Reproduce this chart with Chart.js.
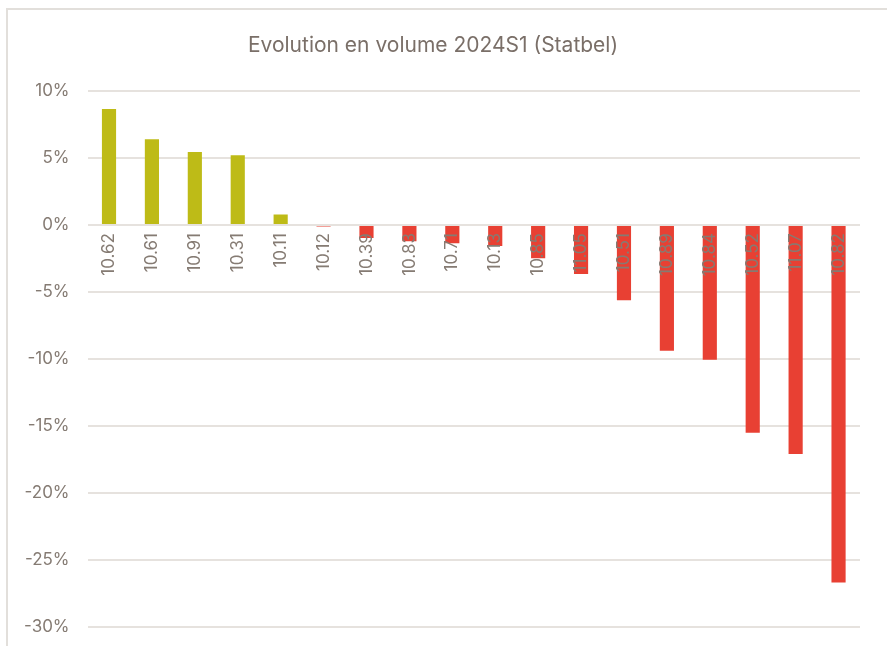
<!DOCTYPE html>
<html>
<head>
<meta charset="utf-8">
<title>Evolution en volume 2024S1</title>
<script src="https://cdn.jsdelivr.net/npm/chart.js@4.4.1/dist/chart.umd.min.js"></script>
<style>
    html, body { margin: 0; padding: 0; background: #ffffff; }
    body { width: 887px; height: 646px; position: relative; overflow: hidden; }
    .frame {
        position: absolute; left: 6px; top: 8px; right: 0; bottom: 0;
        border-left: 2px solid #e2dfdb; border-top: 2px solid #e2dfdb;
    }
    #chart { position: absolute; left: 0; top: 0; }
</style>
</head>
<body>
<div class="frame"></div>
<!-- canvas a bit taller than the window: the bottom edge is cut off like in the source image -->
<canvas id="chart" width="887" height="655"></canvas>
<script>
// Category labels (as printed under each bar)
const categories = ['10.62', '10.61', '10.91', '10.31', '10.11', '10.12', '10.39', '10.83', '10.71',
    '10.13', '10.85', '11.05', '10.51', '10.89', '10.84', '10.52', '11.07', '10.82'];

// Volume change, in %
const volumeChange = [8.67, 6.42, 5.45, 5.22, 0.80, -0.10, -0.97, -1.20, -1.35,
    -1.57, -2.47, -3.66, -5.62, -9.39, -10.05, -15.5, -17.1, -26.7];

// Y axis range and step
const yMin = -30;
const yMax = 10;
const yStep = 5;

const greenColor = '#bebb17';
const redColor = '#e84033';
const textColor = '#857b73';
const gridColor = '#e6e2de';

document.addEventListener('DOMContentLoaded', function() {
    const ctx = document.getElementById('chart').getContext('2d');

    new Chart(ctx, {
        type: 'bar',
        data: {
            labels: categories,
            datasets: [{
                label: 'Evolution en volume',
                data: volumeChange,
                backgroundColor: volumeChange.map(v => v >= 0 ? greenColor : redColor),
                barPercentage: 0.33,
                categoryPercentage: 1.0
            }]
        },
        options: {
            responsive: false,
            animation: false,
            layout: {
                padding: { left: 6, right: 27, top: 33, bottom: 3 }
            },
            plugins: {
                legend: { display: false },
                tooltip: { enabled: false },
                title: {
                    display: true,
                    text: 'Evolution en volume 2024S1 (Statbel)',
                    color: '#7a6f68',
                    font: { family: 'Inter', size: 21, weight: 'normal' },
                    padding: { top: 0, bottom: 33 }
                }
            },
            scales: {
                x: {
                    position: { y: 0 },
                    grid: { display: false, drawTicks: false },
                    border: { display: false },
                    ticks: {
                        z: 1, // labels drawn over the bars
                        color: textColor,
                        font: { family: 'Inter', size: 17 },
                        minRotation: 90,
                        maxRotation: 90,
                        autoSkip: false,
                        padding: 8
                    }
                },
                y: {
                    min: yMin,
                    max: yMax,
                    grid: { color: gridColor, lineWidth: 2, drawTicks: false },
                    border: { display: false },
                    ticks: {
                        stepSize: yStep,
                        color: textColor,
                        font: { family: 'Inter', size: 17 },
                        padding: 18,
                        callback: function(value) { return value + '%'; }
                    }
                }
            }
        }
    });
});
</script>
</body>
</html>
